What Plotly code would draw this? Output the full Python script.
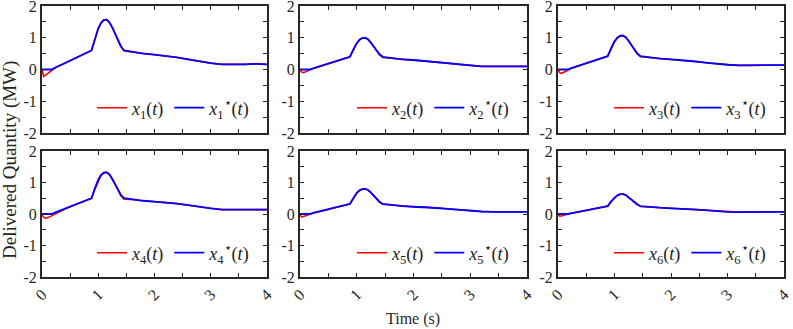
import plotly.graph_objects as go
from plotly.subplots import make_subplots

# ---------------- data ----------------
t = [0, 0.03, 0.06, 0.1, 0.17, 0.25, 0.4, 0.55, 0.7, 0.88, 0.94, 1.0, 1.05, 1.1, 1.15,
     1.2, 1.25, 1.3, 1.35, 1.4, 1.46, 1.6, 1.8, 2.0, 2.2, 2.4, 2.6, 2.8, 3.0, 3.2, 3.4,
     3.6, 3.8, 4.0]

x1_star = [0, 0, 0, 0, 0, 0.07, 0.19, 0.32, 0.45, 0.6, 0.98, 1.3, 1.47, 1.56, 1.57,
           1.48, 1.32, 1.12, 0.92, 0.74, 0.6, 0.55, 0.5, 0.47, 0.43, 0.38, 0.32, 0.25,
           0.2, 0.16, 0.15, 0.16, 0.18, 0.16]
x1 = [0, -0.22, -0.18, -0.13, -0.04, 0.07, 0.19, 0.32, 0.45, 0.6, 0.95, 1.28, 1.46, 1.56,
      1.57, 1.49, 1.33, 1.13, 0.92, 0.73, 0.58, 0.55, 0.5, 0.47, 0.43, 0.38, 0.32, 0.25,
      0.2, 0.16, 0.15, 0.16, 0.18, 0.16]

x2_star = [0, 0, 0, 0, 0, 0.045, 0.13, 0.21, 0.3, 0.4, 0.63, 0.83, 0.94, 0.99, 1.0,
           0.95, 0.84, 0.72, 0.6, 0.48, 0.4, 0.36, 0.32, 0.3, 0.27, 0.24, 0.2, 0.16,
           0.13, 0.1, 0.1, 0.1, 0.11, 0.1]
x2 = [0, -0.08, -0.1, -0.07, -0.02, 0.045, 0.13, 0.21, 0.3, 0.4, 0.61, 0.82, 0.94, 0.99,
      1.0, 0.95, 0.85, 0.72, 0.6, 0.47, 0.38, 0.36, 0.32, 0.3, 0.27, 0.24, 0.2, 0.16,
      0.13, 0.1, 0.1, 0.1, 0.11, 0.1]

x3_star = [0, 0, 0, 0, 0, 0.05, 0.14, 0.22, 0.31, 0.42, 0.67, 0.89, 1.0, 1.06, 1.07,
           1.01, 0.9, 0.77, 0.63, 0.51, 0.42, 0.38, 0.34, 0.32, 0.3, 0.26, 0.22, 0.18,
           0.15, 0.13, 0.13, 0.13, 0.14, 0.14]
x3 = [0, -0.1, -0.12, -0.09, -0.03, 0.05, 0.14, 0.22, 0.31, 0.42, 0.64, 0.87, 0.99, 1.06,
      1.07, 1.02, 0.91, 0.77, 0.63, 0.5, 0.4, 0.38, 0.34, 0.32, 0.3, 0.26, 0.22, 0.18,
      0.15, 0.13, 0.13, 0.13, 0.14, 0.14]

x4_star = [0, 0, 0, 0, 0, 0.06, 0.16, 0.27, 0.37, 0.5, 0.82, 1.09, 1.24, 1.31, 1.32,
           1.25, 1.11, 0.94, 0.77, 0.61, 0.5, 0.46, 0.42, 0.39, 0.37, 0.33, 0.28, 0.22,
           0.18, 0.14, 0.14, 0.14, 0.15, 0.14]
x4 = [-0.03, -0.1, -0.13, -0.12, -0.06, 0.02, 0.15, 0.27, 0.37, 0.5, 0.78, 1.06, 1.23,
      1.31, 1.33, 1.26, 1.12, 0.95, 0.77, 0.58, 0.47, 0.46, 0.42, 0.39, 0.37, 0.33, 0.28,
      0.22, 0.18, 0.14, 0.14, 0.14, 0.15, 0.14]

x5_star = [0, 0, 0, 0, 0, 0.04, 0.1, 0.17, 0.24, 0.32, 0.51, 0.67, 0.75, 0.79, 0.8,
           0.76, 0.68, 0.58, 0.48, 0.39, 0.32, 0.29, 0.25, 0.23, 0.22, 0.19, 0.16, 0.13,
           0.1, 0.08, 0.07, 0.07, 0.08, 0.07]
x5 = [-0.02, -0.1, -0.08, -0.05, -0.01, 0.04, 0.1, 0.17, 0.24, 0.32, 0.5, 0.66, 0.75,
      0.79, 0.8, 0.76, 0.68, 0.58, 0.48, 0.38, 0.31, 0.29, 0.25, 0.23, 0.22, 0.19, 0.16,
      0.13, 0.1, 0.08, 0.07, 0.07, 0.08, 0.07]

x6_star = [0, 0, 0, 0, 0, 0.03, 0.08, 0.13, 0.19, 0.25, 0.4, 0.52, 0.59, 0.63, 0.63,
           0.6, 0.53, 0.46, 0.38, 0.3, 0.25, 0.22, 0.2, 0.18, 0.17, 0.15, 0.12, 0.09,
           0.07, 0.06, 0.06, 0.06, 0.07, 0.07]
x6 = [-0.02, -0.07, -0.06, -0.04, -0.01, 0.03, 0.08, 0.13, 0.19, 0.25, 0.39, 0.52, 0.59,
      0.63, 0.63, 0.6, 0.53, 0.46, 0.38, 0.3, 0.24, 0.22, 0.2, 0.18, 0.17, 0.15, 0.12,
      0.09, 0.07, 0.06, 0.06, 0.06, 0.07, 0.07]

series_actual = [x1, x2, x3, x4, x5, x6]
series_ref = [x1_star, x2_star, x3_star, x4_star, x5_star, x6_star]
x_ticks = [0, 1, 2, 3, 4]
x_tick_labels = ["0", "1", "2", "3", "4"]
y_ticks = [-2, -1, 0, 1, 2]
y_tick_labels = ["-2", "-1", "0", "1", "2"]

# ---------------- figure ----------------
W, H = 793, 329
ML, MR, MT, MB = 42, 9, 6, 52
PW, PH = W - ML - MR, H - MT - MB

FONT = "Liberation Serif"
AX = "#262626"

fig = make_subplots(rows=2, cols=3)

col_px = [(42, 267), (300, 527), (558, 784)]
row_px = [(6, 133), (151, 277)]


def xdom(a, b):
    return [(a - ML) / PW, (b - ML) / PW]


def ydom(a, b):
    return [(H - MB - b) / PH, (H - MB - a) / PH]


for k in range(6):
    r, c = divmod(k, 3)
    n = k + 1
    leg = "legend" if n == 1 else f"legend{n}"
    fig.add_trace(go.Scatter(x=t, y=series_actual[k], mode="lines",
                             line=dict(color="#ff0000", width=1.6),
                             name=f"<i>x</i><sub>{n}</sub>(<i>t</i>)",
                             legend=leg), row=r + 1, col=c + 1)
    fig.add_trace(go.Scatter(x=t, y=series_ref[k], mode="lines",
                             line=dict(color="#0000ff", width=1.8),
                             name=f"<i>x</i><sub>{n}</sub><sup>⋆</sup>(<i>t</i>)",
                             legend=leg), row=r + 1, col=c + 1)

    xa = "xaxis" if n == 1 else f"xaxis{n}"
    ya = "yaxis" if n == 1 else f"yaxis{n}"
    fig.layout[xa].update(
        domain=xdom(*col_px[c]), range=[0, 4], tickvals=x_ticks,
        ticktext=x_tick_labels, showticklabels=(r == 1), tickangle=-45,
        ticks="inside", ticklen=4, tickcolor=AX, showline=True, linewidth=2,
        linecolor=AX, mirror="ticks", showgrid=False, zeroline=False,
        minor=dict(dtick=0.5, tick0=0, ticks="inside", ticklen=4, tickcolor=AX, showgrid=False),
        tickfont=dict(family=FONT, size=16, color=AX), automargin=False,
        ticklabeloverflow="allow",
    )
    fig.layout[ya].update(
        domain=ydom(*row_px[r]), range=[-2, 2], tickvals=y_ticks,
        ticktext=y_tick_labels, ticks="inside", ticklen=4, tickcolor=AX,
        showline=True, linewidth=2, linecolor=AX, mirror="ticks",
        showgrid=False, zeroline=False,
        minor=dict(dtick=0.5, tick0=0, ticks="inside", ticklen=4, tickcolor=AX, showgrid=False),
        tickfont=dict(family=FONT, size=16, color=AX), automargin=False,
        ticklabeloverflow="allow",
    )

    right_px = col_px[c][1] - 12
    mid_px = 108 if r == 0 else 253
    fig.layout[leg] = dict(
        x=(right_px - ML) / PW, y=(H - MB - mid_px) / PH,
        xanchor="right", yanchor="middle", orientation="h",
        bgcolor="rgba(0,0,0,0)", borderwidth=0,
        font=dict(family=FONT, size=18, color="#222222"),
        itemwidth=30,
    )

fig.add_annotation(text="Delivered Quantity (MW)", x=(10 - ML) / PW,
                   y=(H - MB - 160) / PH, xref="paper", yref="paper",
                   showarrow=False, textangle=-90, xanchor="center", yanchor="middle",
                   font=dict(family=FONT, size=19, color=AX))
fig.add_annotation(text="Time (s)", x=(413 - ML) / PW, y=(H - MB - 319) / PH,
                   xref="paper", yref="paper", showarrow=False,
                   xanchor="center", yanchor="middle",
                   font=dict(family=FONT, size=16, color=AX))

fig.update_layout(
    width=W, height=H, margin=dict(l=ML, r=MR, t=MT, b=MB, autoexpand=False),
    paper_bgcolor="white", plot_bgcolor="white", showlegend=True,
    font=dict(family=FONT, color=AX),
)

fig.write_html("out.html", config={"displayModeBar": False},
               post_script="document.body.style.margin='0px';document.body.style.overflow='hidden';")
